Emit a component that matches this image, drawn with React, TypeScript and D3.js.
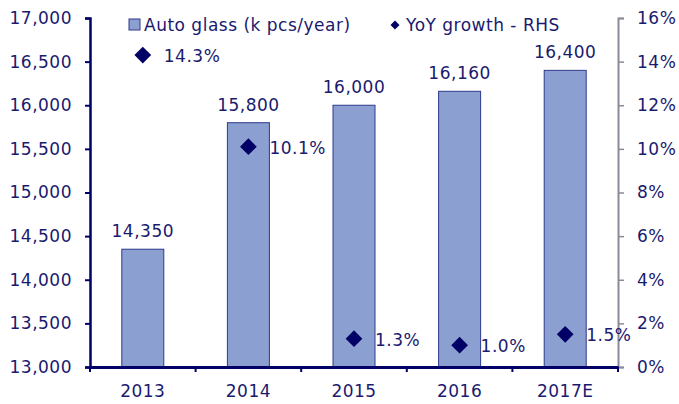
import React, { useEffect, useRef } from "react";
import * as d3 from "d3";

const years = ["2013", "2014", "2015", "2016", "2017E"];
const autoGlass = [14350, 15800, 16000, 16160, 16400];
const yoyGrowth = [14.3, 10.1, 1.3, 1.0, 1.5];
const leftTicks = [13000, 13500, 14000, 14500, 15000, 15500, 16000, 16500, 17000];
const rightTicks = [0, 2, 4, 6, 8, 10, 12, 14, 16];

const App = () => {
  const svgRef = useRef<SVGSVGElement>(null);

  useEffect(() => {
    const svg = d3.select(svgRef.current);
    svg.selectAll("*").remove();

    const W = 679;
    const H = 404;
    const margin = { top: 18, right: 61, bottom: 37, left: 90 };
    const width = W - margin.left - margin.right;
    const height = H - margin.top - margin.bottom;
    const navy = "#000066";
    const textColor = "#1a1a6e";
    const font = "'DejaVu Sans', Verdana, sans-serif";
    const ls = "0.5px";

    const x = d3.scaleBand().domain(years).range([0, width]).padding(0);
    const y = d3.scaleLinear().domain([13000, 17000]).range([height, 0]);
    const y2 = d3.scaleLinear().domain([0, 16]).range([height, 0]);

    const g = svg
      .append("g")
      .attr("transform", `translate(${margin.left},${margin.top})`);

    // bars
    const barW = 42;
    g.selectAll(".bar")
      .data(autoGlass)
      .enter()
      .append("rect")
      .attr("x", (d, i) => x(years[i])! + x.bandwidth() / 2 - barW / 2)
      .attr("y", (d) => y(d))
      .attr("width", barW)
      .attr("height", (d) => height - y(d))
      .attr("fill", "#8c9fd1")
      .attr("stroke", "#2e3a8c")
      .attr("stroke-width", 1);

    g.selectAll(".barLabel")
      .data(autoGlass)
      .enter()
      .append("text")
      .attr("x", (d, i) => x(years[i])! + x.bandwidth() / 2)
      .attr("y", (d) => y(d) - 12)
      .attr("text-anchor", "middle")
      .attr("fill", textColor)
      .style("font", `17px ${font}`)
      .style("letter-spacing", ls)
      .text((d) => d3.format(",")(d));

    // left axis
    const yAxis = g
      .append("g")
      .call(
        d3.axisLeft(y).tickValues(leftTicks).tickSize(5).tickFormat(d3.format(","))
      );
    yAxis.select(".domain").attr("stroke", navy).attr("stroke-width", 2.5);
    yAxis.selectAll(".tick line").attr("stroke", navy).attr("stroke-width", 2);
    yAxis
      .selectAll(".tick text")
      .attr("fill", textColor)
      .attr("x", -18)
      .style("font", `17px ${font}`)
      .style("letter-spacing", ls);

    // right axis
    const y2Axis = g
      .append("g")
      .attr("transform", `translate(${width},0)`)
      .call(
        d3.axisRight(y2).tickValues(rightTicks).tickSize(6).tickFormat((d) => `${d}%`)
      );
    y2Axis.select(".domain").attr("stroke", "#8a8a9a").attr("stroke-width", 2);
    y2Axis.selectAll(".tick line").attr("stroke", "#8a8a9a").attr("stroke-width", 1.5);
    y2Axis
      .selectAll(".tick text")
      .attr("fill", textColor)
      .attr("x", 19)
      .style("font", `17px ${font}`)
      .style("letter-spacing", ls);

    // bottom axis
    const xAxis = g
      .append("g")
      .attr("transform", `translate(0,${height})`)
      .call(d3.axisBottom(x).tickSize(0));
    xAxis.select(".domain").attr("stroke", navy).attr("stroke-width", 3);
    xAxis
      .selectAll(".tick text")
      .attr("fill", textColor)
      .attr("dy", 0)
      .attr("y", 30)
      .style("font", `17px ${font}`)
      .style("letter-spacing", ls);
    g.selectAll(".xtick")
      .data(d3.range(years.length + 1))
      .enter()
      .append("line")
      .attr("x1", (i) => i * x.step())
      .attr("x2", (i) => i * x.step())
      .attr("y1", height)
      .attr("y2", height + 5)
      .attr("stroke", navy)
      .attr("stroke-width", 2);

    // diamonds
    const diamond = d3.symbol().type(d3.symbolSquare).size(140);
    g.selectAll(".pt")
      .data(yoyGrowth)
      .enter()
      .append("path")
      .attr("d", diamond)
      .attr(
        "transform",
        (d, i) => `translate(${x(years[i])! + x.bandwidth() / 2},${y2(d)}) rotate(45)`
      )
      .attr("fill", navy);

    g.selectAll(".ptLabel")
      .data(yoyGrowth)
      .enter()
      .append("text")
      .attr("x", (d, i) => x(years[i])! + x.bandwidth() / 2 + 21)
      .attr("y", (d) => y2(d) + 7)
      .attr("fill", textColor)
      .style("font", `17px ${font}`)
      .style("letter-spacing", ls)
      .text((d) => `${d.toFixed(1)}%`);

    // legend
    const lg = svg.append("g");
    lg.append("rect")
      .attr("x", 129)
      .attr("y", 19)
      .attr("width", 11)
      .attr("height", 11)
      .attr("fill", "#8c9fd1")
      .attr("stroke", "#2e3a8c");
    lg.append("text")
      .attr("x", 144)
      .attr("y", 31)
      .attr("fill", textColor)
      .style("font", `17px ${font}`)
      .style("letter-spacing", ls)
      .text("Auto glass (k pcs/year)");
    lg.append("path")
      .attr("d", d3.symbol().type(d3.symbolSquare).size(40)())
      .attr("transform", "translate(395,25) rotate(45)")
      .attr("fill", navy);
    lg.append("text")
      .attr("x", 406)
      .attr("y", 31)
      .attr("fill", textColor)
      .style("font", `17px ${font}`)
      .style("letter-spacing", ls)
      .text("YoY growth - RHS");
  }, []);

  return (
    <svg
      ref={svgRef}
      width={679}
      height={404}
      style={{ position: "absolute", left: 0, top: 0, background: "#fff" }}
    ></svg>
  );
};

export default App;
